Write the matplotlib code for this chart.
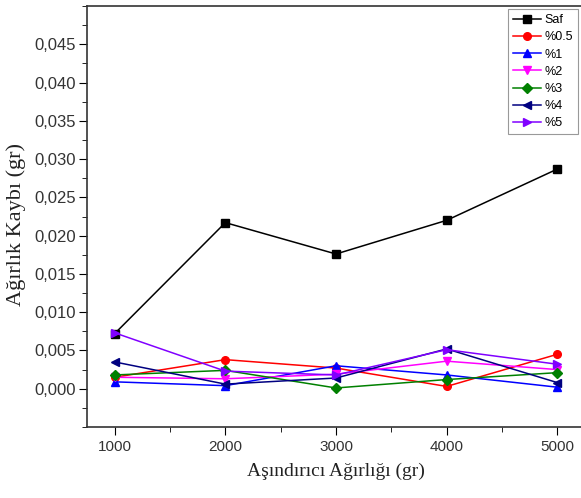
import matplotlib
matplotlib.use("Agg")
import matplotlib.pyplot as plt
from matplotlib.ticker import FuncFormatter, MultipleLocator

x = [1000, 2000, 3000, 4000, 5000]
saf = [0.0072, 0.0217, 0.0176, 0.0220, 0.0287]
p05 = [0.0015, 0.0038, 0.0027, 0.0003, 0.0045]
p1 = [0.0009, 0.0004, 0.0030, 0.0018, 0.0002]
p2 = [0.0015, 0.0013, 0.0019, 0.0036, 0.0025]
p3 = [0.0018, 0.0024, 0.0001, 0.0012, 0.0021]
p4 = [0.0035, 0.0006, 0.0014, 0.0052, 0.0008]
p5 = [0.0073, 0.0023, 0.0018, 0.0051, 0.0032]

series = [
    ("Saf", saf, "black", "s"),
    ("%0.5", p05, "red", "o"),
    ("%1", p1, "blue", "^"),
    ("%2", p2, "magenta", "v"),
    ("%3", p3, "#008000", "D"),
    ("%4", p4, "#000080", "<"),
    ("%5", p5, "#8000ff", ">"),
]

fig = plt.figure(figsize=(5.81, 4.98), dpi=100)
ax = fig.add_axes([87/581, 71/498, 498/581, 421/498])
for name, vals, c, m in series:
    ms = 5.5 if m != "D" else 5
    ax.plot(x, vals, color=c, marker=m, markersize=ms, linewidth=1.1, label=name)

ax.set_xlim(750, 5250)
ax.set_ylim(-0.005, 0.050)
ax.xaxis.set_major_locator(MultipleLocator(1000))
ax.xaxis.set_minor_locator(MultipleLocator(500))
ax.yaxis.set_minor_locator(MultipleLocator(0.0025))
ax.set_yticks([0.005 * i for i in range(10)])
ax.yaxis.set_major_formatter(FuncFormatter(lambda v, p: f"{v:.3f}".replace(".", ",")))
ax.tick_params(which="both", direction="out")
ax.tick_params(axis="x", labelsize=11)
ax.tick_params(axis="y", labelsize=12, pad=2)
ax.tick_params(which="major", length=6)
ax.tick_params(which="minor", length=3.5)
for lab in ax.get_xticklabels() + ax.get_yticklabels():
    lab.set_fontfamily("Liberation Sans")
    lab.set_color("#333333")
for s in ax.spines.values():
    s.set_linewidth(1.2)
    s.set_color("#333333")

ax.set_xlabel("Aşındırıcı Ağırlığı (gr)", fontfamily="Liberation Serif", fontsize=14, labelpad=6, color="#222222")
ax.set_ylabel("Ağırlık Kaybı (gr)", fontfamily="Liberation Serif", fontsize=16, color="#222222")
ax.yaxis.set_label_coords(-0.122, 0.482)

leg = ax.legend(loc="upper right", bbox_to_anchor=(578/581, 489/498), bbox_transform=fig.transFigure,
                fancybox=False, framealpha=1, edgecolor="#999999",
                handlelength=2.2, labelspacing=0.42, borderpad=0.4, handletextpad=0.3,
                borderaxespad=0, prop={"family": "Liberation Sans", "size": 9})
leg.get_frame().set_linewidth(0.8)

fig.savefig("out.png", dpi=100)
